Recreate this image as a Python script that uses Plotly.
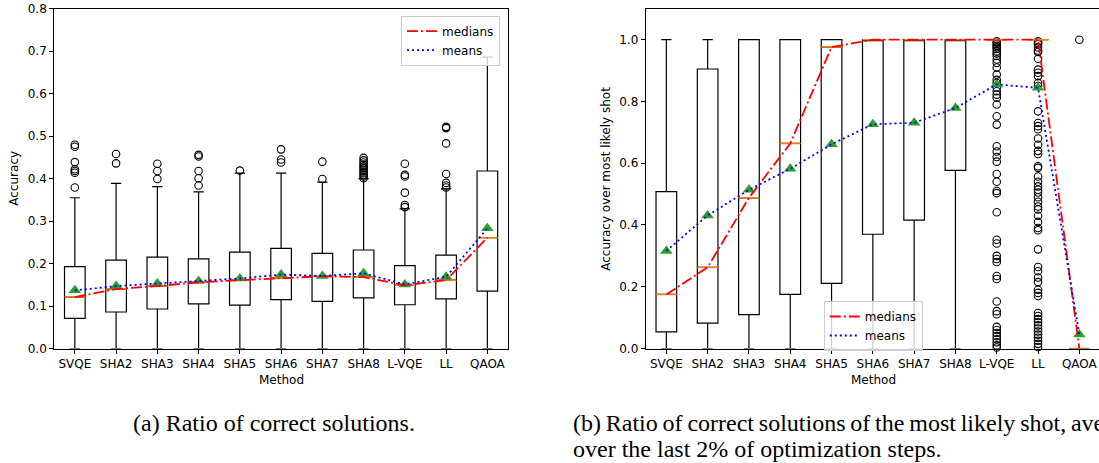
import plotly.graph_objects as go

W, H = 1099, 463

methods = ["SVQE", "SHA2", "SHA3", "SHA4", "SHA5", "SHA6", "SHA7", "SHA8", "L-VQE", "LL", "QAOA"]
positions = list(range(1, len(methods) + 1))

# ---- (a) Ratio of correct solutions ----
a_q1 = [0.071, 0.086, 0.093, 0.105, 0.102, 0.115, 0.111, 0.119, 0.103, 0.117, 0.135]
a_median = [0.121, 0.140, 0.147, 0.156, 0.161, 0.166, 0.170, 0.168, 0.149, 0.161, 0.261]
a_q3 = [0.193, 0.208, 0.215, 0.211, 0.227, 0.236, 0.224, 0.232, 0.195, 0.220, 0.418]
a_whislo = [0.0] * 11
a_whishi = [0.355, 0.389, 0.381, 0.369, 0.413, 0.413, 0.392, 0.400, 0.329, 0.376, 0.686]
a_mean = [0.137, 0.147, 0.153, 0.159, 0.165, 0.174, 0.171, 0.177, 0.151, 0.169, 0.283]
a_fliers = [
    [0.379, 0.414, 0.418, 0.422, 0.439, 0.475, 0.480],
    [0.436, 0.458],
    [0.399, 0.418, 0.435],
    [0.384, 0.401, 0.418, 0.452, 0.456],
    [0.419],
    [0.438, 0.445, 0.469],
    [0.399, 0.440],
    [0.401, 0.405, 0.409, 0.413, 0.417, 0.421, 0.425, 0.429, 0.433, 0.438, 0.443, 0.449],
    [0.333, 0.338, 0.367, 0.405, 0.409, 0.435],
    [0.379, 0.384, 0.390, 0.411, 0.483, 0.519, 0.522],
    [],
]

# ---- (b) Ratio of correct solutions of the most likely shot ----
b_q1 = [0.054, 0.082, 0.110, 0.175, 0.211, 0.370, 0.416, 0.577, 1.0, 1.0, 0.0]
b_median = [0.175, 0.263, 0.488, 0.664, 0.976, 1.0, 1.0, 1.0, 1.0, 1.0, 0.0]
b_q3 = [0.508, 0.905, 1.0, 1.0, 1.0, 1.0, 1.0, 1.0, 1.0, 1.0, 0.0]
b_whislo = [0.0, 0.0, 0.0, 0.0, 0.0, 0.0, 0.0, 0.0, 1.0, 1.0, 0.0]
b_whishi = [1.0, 1.0, 1.0, 1.0, 1.0, 1.0, 1.0, 1.0, 1.0, 1.0, 0.0]
b_mean = [0.316, 0.431, 0.514, 0.582, 0.661, 0.726, 0.731, 0.779, 0.855, 0.844, 0.045]
b_fliers = [
    [], [], [], [], [], [], [], [],
    [0.995, 0.990, 0.985, 0.980, 0.975, 0.970, 0.962, 0.955, 0.947, 0.936, 0.925, 0.910,
     0.887, 0.870, 0.860, 0.845, 0.833, 0.822, 0.812, 0.790, 0.752, 0.725, 0.655, 0.638,
     0.620, 0.605, 0.565, 0.540, 0.510, 0.503, 0.441, 0.352, 0.340, 0.300, 0.290, 0.280,
     0.235, 0.225, 0.152, 0.121, 0.111, 0.070, 0.060, 0.050, 0.040, 0.030, 0.020, 0.010, 0.003],
    [0.995, 0.990, 0.985, 0.975, 0.965, 0.960, 0.938, 0.903, 0.893, 0.882, 0.860, 0.850,
     0.768, 0.730, 0.720, 0.710, 0.680, 0.660, 0.640, 0.630, 0.590, 0.585, 0.557, 0.540,
     0.525, 0.514, 0.505, 0.490, 0.475, 0.460, 0.450, 0.430, 0.410, 0.390, 0.383, 0.321,
     0.264, 0.250, 0.230, 0.215, 0.190, 0.180, 0.170, 0.115, 0.105, 0.095, 0.085, 0.075,
     0.065, 0.055, 0.045, 0.035, 0.025, 0.015, 0.005],
    [1.0],
]

caption_a = "(a) Ratio of correct solutions."
# first line of a justified paragraph: its word spaces are narrower
caption_b1 = "\u2009".join("(b) Ratio of correct solutions of the most likely shot, averaged".split(" "))
caption_b2 = "over the last 2% of optimization steps."

BOX_W = 0.5
FONT = "DejaVu Sans"
fig = go.Figure()


def add_panel(xa, ya, q1, med, q3, lo, hi, mean, fliers, legend):
    for i, p in enumerate(positions):
        fig.add_trace(go.Box(
            x=[p], q1=[q1[i]], median=[med[i]], q3=[q3[i]],
            lowerfence=[lo[i]], upperfence=[hi[i]],
            width=BOX_W, whiskerwidth=0.5,
            line=dict(color="black", width=1.2),
            fillcolor="rgba(0,0,0,0)", boxpoints=False,
            xaxis=xa, yaxis=ya, showlegend=False, hoverinfo="skip"))
    # fliers
    fx, fy = [], []
    for i, p in enumerate(positions):
        for v in fliers[i]:
            fx.append(p)
            fy.append(v)
    fig.add_trace(go.Scatter(
        x=fx, y=fy, mode="markers", xaxis=xa, yaxis=ya, showlegend=False,
        marker=dict(symbol="circle-open", size=7.5, color="black", line=dict(width=1.1)),
        hoverinfo="skip", cliponaxis=False))
    # orange median segments
    mx, my = [], []
    for i, p in enumerate(positions):
        mx += [p - BOX_W / 2, p + BOX_W / 2, None]
        my += [med[i], med[i], None]
    fig.add_trace(go.Scatter(
        x=mx, y=my, mode="lines", xaxis=xa, yaxis=ya, showlegend=False,
        line=dict(color="#ff7f0e", width=1.5), hoverinfo="skip", cliponaxis=False))
    # mean markers
    fig.add_trace(go.Scatter(
        x=positions, y=mean, mode="markers", xaxis=xa, yaxis=ya, showlegend=False,
        marker=dict(symbol="triangle-up", size=11, color="#2ca02c"),
        hoverinfo="skip", cliponaxis=False))
    # medians line
    fig.add_trace(go.Scatter(
        x=positions, y=med, mode="lines", name="medians", xaxis=xa, yaxis=ya,
        legend=legend, line=dict(color="#ff0000", width=1.8, dash="11px,3px,2px,3px"),
        hoverinfo="skip", cliponaxis=False))
    # means line
    fig.add_trace(go.Scatter(
        x=positions, y=mean, mode="lines", name="means", xaxis=xa, yaxis=ya,
        legend=legend, line=dict(color="#0000ff", width=1.8, dash="2px,3px"),
        hoverinfo="skip", cliponaxis=False))


add_panel("x", "y", a_q1, a_median, a_q3, a_whislo, a_whishi, a_mean, a_fliers, "legend")
add_panel("x2", "y2", b_q1, b_median, b_q3, b_whislo, b_whishi, b_mean, b_fliers, "legend2")


def px_x(x):
    return x / W


def px_y(y):
    return 1 - y / H


Y_DOM = [px_y(348.5), px_y(8.8)]
tickfont = dict(family=FONT, size=12, color="black")
common_x = dict(tickmode="array", tickvals=positions, ticktext=methods, ticks="outside",
                ticklen=4, tickwidth=1, tickcolor="black", showline=True, linecolor="black",
                linewidth=1, showgrid=False, zeroline=False, tickfont=tickfont,
                automargin=False, ticklabeloverflow="allow")
common_y = dict(ticks="outside", ticklen=4, tickwidth=1, tickcolor="black", showline=True,
                linecolor="black", linewidth=1, showgrid=False, zeroline=False,
                tickfont=tickfont, tickformat=".1f", automargin=False,
                ticklabeloverflow="allow")

legend_style = dict(bgcolor="rgba(255,255,255,0.8)", bordercolor="#cccccc", borderwidth=1,
                    font=dict(family=FONT, size=12, color="black"), itemwidth=30,
                    xanchor="left", yanchor="top", xref="paper", yref="paper",
                    tracegroupgap=0)

fig.update_layout(
    width=W, height=H, margin=dict(l=0, r=0, t=0, b=0, autoexpand=False),
    paper_bgcolor="white", plot_bgcolor="white",
    font=dict(family=FONT, size=12, color="black"),
    xaxis=dict(domain=[px_x(54.2), px_x(508)], range=[0.5, 11.5], anchor="y", mirror=True, **common_x),
    yaxis=dict(domain=Y_DOM, range=[0, 0.8], anchor="x", mirror=True, dtick=0.1, **common_y),
    xaxis2=dict(domain=[px_x(645.7), 1.0], range=[0.5, 11.476], anchor="y2", mirror=True, **common_x),
    yaxis2=dict(domain=Y_DOM, range=[0, 1.1], anchor="x2", mirror=False,
                tickvals=[0, 0.2, 0.4, 0.6, 0.8, 1.0], **common_y),
    legend=dict(x=px_x(401), y=px_y(15.7), **legend_style),
    legend2=dict(x=px_x(823.8), y=px_y(301), **legend_style),
    showlegend=True,
)


def px_annot(text, x, y, size=12, family=FONT, angle=0, xanchor="center"):
    fig.add_annotation(text=text, x=px_x(x), y=px_y(y), xref="paper", yref="paper",
                       showarrow=False, textangle=angle, xanchor=xanchor, yanchor="middle",
                       font=dict(family=family, size=size, color="black"))


px_annot("Accuracy", 14, 178.7, angle=-90)
px_annot("Accuracy over most likely shot", 606, 178.8, angle=-90)
px_annot("Method", 281, 380)
px_annot("Method", 873, 380)
px_annot(caption_a, 131, 422.9, size=24, family="Liberation Serif", xanchor="left")
px_annot(caption_b1, 571, 422.9, size=24, family="Liberation Serif", xanchor="left")
px_annot(caption_b2, 571, 448.9, size=24, family="Liberation Serif", xanchor="left")

# the page's default 8px body margin would shift the whole figure; remove it
fig.write_html("out.html", config={"displayModeBar": False},
               post_script="document.body.style.margin='0px';")
